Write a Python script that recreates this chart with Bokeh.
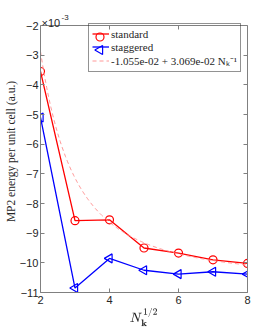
import numpy as np
from bokeh.plotting import figure
from bokeh.models import Range1d, LinearAxis, FixedTicker, Legend, Label, Span
from bokeh.embed import file_html
from bokeh.resources import INLINE

# data (energies in units of 1e-3 a.u.)
nk_sqrt = [2, 3, 4, 5, 6, 7, 8]
standard = [-3.55, -8.58, -8.55, -9.50, -9.67, -9.90, -10.02]
staggered = [-5.10, -10.85, -9.85, -10.25, -10.38, -10.30, -10.38]
fit_a = -1.055e-02
fit_b = 3.069e-02
x_ticks = [2, 4, 6, 8]
y_ticks = [-2, -3, -4, -5, -6, -7, -8, -9, -10, -11]
Y_MIN, Y_MAX = -11, -2

xf = np.linspace(2, 8, 200)
yf = (fit_a + fit_b / xf**2) * 1e3

SERIF = "Liberation Serif"
SANS = "Liberation Sans"
AX = "#808080"
TXT = "#262626"

# layout: the frame extends TOP_PAD px above the axes box to hold the exponent
W, H = 274, 329
B_LEFT, B_RIGHT, B_TOP, B_BOTTOM = 40, 27, 10, 37
TOP_PAD = 15
FW, FH = W - B_LEFT - B_RIGHT, H - B_TOP - B_BOTTOM
BOX_H = FH - TOP_PAD
y_end = Y_MAX + TOP_PAD * (Y_MAX - Y_MIN) / BOX_H

p = figure(width=W, height=H, output_backend="svg", toolbar_location=None,
           x_range=Range1d(2, 8), y_range=Range1d(Y_MIN, y_end),
           min_border_left=B_LEFT, min_border_right=B_RIGHT,
           min_border_top=B_TOP, min_border_bottom=B_BOTTOM)
p.title.visible = False
p.grid.visible = False
p.outline_line_color = None
p.background_fill_color = "white"
p.border_fill_color = "white"
p.extra_x_ranges = {"px": Range1d(0, FW)}
p.extra_y_ranges = {"py": Range1d(0, FH)}

for ax in (p.xaxis[0], p.yaxis[0]):
    ax.axis_line_color = AX
    ax.major_tick_line_color = AX
    ax.minor_tick_line_color = None
    ax.major_tick_in = 4
    ax.major_tick_out = 0
    ax.major_label_text_font = SANS
    ax.major_label_text_font_size = "11px"
    ax.major_label_text_color = TXT
    ax.axis_label_text_font = SERIF
    ax.axis_label_text_font_style = "normal"
    ax.axis_label_text_color = TXT

p.xaxis[0].ticker = FixedTicker(ticks=x_ticks)
p.yaxis[0].ticker = FixedTicker(ticks=y_ticks)
p.yaxis[0].bounds = (Y_MIN, Y_MAX)
p.xaxis[0].major_label_standoff = 3
p.yaxis[0].major_label_standoff = 2
p.xaxis[0].axis_label = r"$$N_{\mathbf{k}}^{1/2}$$"
p.xaxis[0].axis_label_text_font_size = "12px"
p.xaxis[0].axis_label_standoff = 1
p.yaxis[0].axis_label = "MP2 energy per unit cell (a.u.)"
p.yaxis[0].axis_label_text_font_size = "11.5px"
p.yaxis[0].axis_label_standoff = 0

right = LinearAxis(ticker=FixedTicker(ticks=y_ticks), bounds=(Y_MIN, Y_MAX),
                   major_label_text_font_size="0px",
                   axis_line_color=AX, major_tick_line_color=AX, major_tick_in=4, major_tick_out=0,
                   minor_tick_line_color=None, major_label_standoff=0)
p.add_layout(right, "right")

# top edge of the axes box, with inward ticks
p.add_layout(Span(location=Y_MAX, dimension="width", line_color=AX, line_width=1))
p.segment(x0=x_ticks, y0=[BOX_H] * len(x_ticks), x1=x_ticks, y1=[BOX_H - 4] * len(x_ticks),
          y_range_name="py", line_color=AX, line_width=1)

r1l = p.line(nk_sqrt, standard, line_color="red", line_width=1.3)
r1m = p.scatter(nk_sqrt, standard, marker="circle", size=8, line_color="red",
                fill_color=None, line_width=1.2)
r2l = p.line(nk_sqrt, staggered, line_color="blue", line_width=1.3)
r2m = p.scatter(nk_sqrt, staggered, marker="triangle", size=9, angle=np.pi / 2,
                line_color="blue", fill_color=None, line_width=1.2)
r3 = p.line(xf, yf, line_color="#ff8c8c", line_width=0.9, line_dash="4 3")

# legend layout (px, relative to frame bottom-left)
LEG_X, PAD, ROW, GW = 48, 3, 13, 17
LEG_H = 3 * ROW + 2 * PAD
LEG_Y = BOX_H - 2 - LEG_H
legend = Legend(items=[("standard", [r1l]), ("staggered", [r2l]),
                       ("-1.055e-02 + 3.069e-02 Nₖ⁻¹", [r3])],
                location=(LEG_X, LEG_Y), margin=0, padding=PAD, spacing=0,
                glyph_width=GW, glyph_height=ROW, label_height=ROW, label_standoff=2,
                label_text_font=SERIF, label_text_font_size="11px", label_text_color=TXT,
                border_line_color=TXT, border_line_width=1,
                background_fill_alpha=0)
p.add_layout(legend, "center")

# legend key markers (drawn under the transparent legend box)
kx = LEG_X + PAD + GW / 2
ky_top = LEG_Y + LEG_H - PAD - ROW / 2
p.scatter([kx], [ky_top], x_range_name="px", y_range_name="py", marker="circle", size=8,
          line_color="red", fill_color=None, line_width=1.2)
p.scatter([kx], [ky_top - ROW], x_range_name="px", y_range_name="py", marker="triangle",
          size=9, angle=np.pi / 2, line_color="blue", fill_color=None, line_width=1.2)

# axis exponent "×10^-3" above the top-left corner of the axes box
p.add_layout(Label(x=1, y=BOX_H + 3, x_units="screen", y_units="screen", text="×10",
                   text_baseline="alphabetic", text_font=SANS, text_font_size="11px",
                   text_color=TXT))
p.add_layout(Label(x=21, y=BOX_H + 8, x_units="screen", y_units="screen", text="-3",
                   text_baseline="alphabetic", text_font=SANS, text_font_size="8px",
                   text_color=TXT))

open("out.html", "w").write(file_html(p, INLINE))
